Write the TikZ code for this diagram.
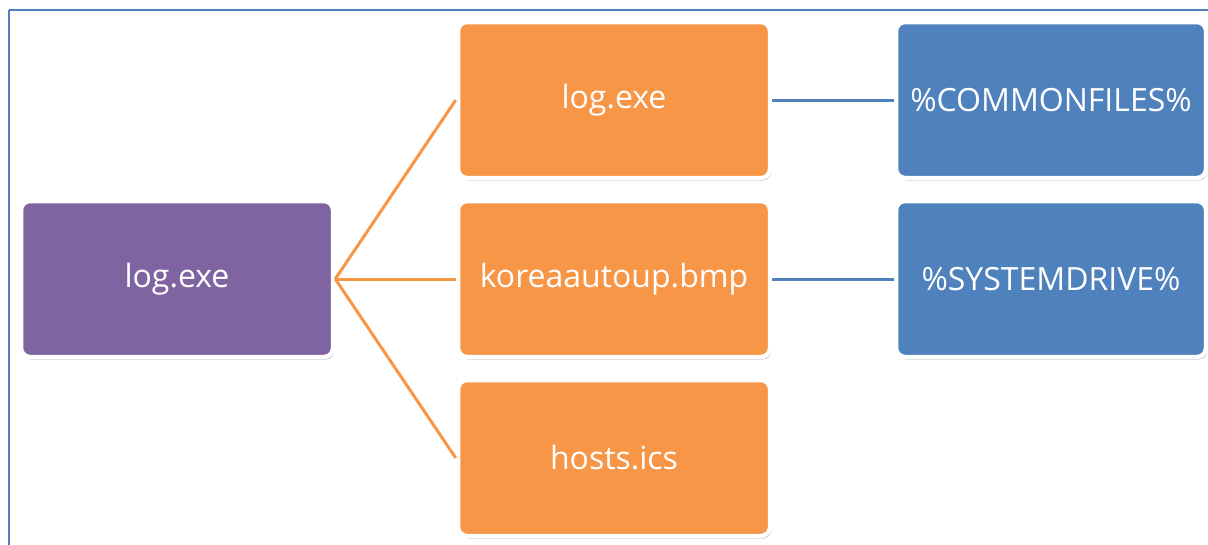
\documentclass[tikz,border=0pt]{standalone}
\usepackage{fontspec}
\setmainfont{Open Sans}
\usetikzlibrary{shadows}
\definecolor{frameblue}{HTML}{4F81BD}
\definecolor{rootpurple}{HTML}{8064A2}
\definecolor{fileorange}{HTML}{F79646}
\definecolor{dirblue}{HTML}{4F81BD}
\begin{document}
\begin{tikzpicture}[x=1pt,y=-1pt,
    box/.style={draw=white, line width=4.5pt, rounded corners=9pt,
      minimum width=312pt, minimum height=156pt, text=white,
      font=\fontsize{32}{38}\selectfont,
      drop shadow={shadow xshift=1.5pt, shadow yshift=-2.5pt, fill=black!45, opacity=0.6}},
    rootbox/.style={box, fill=rootpurple},
    filebox/.style={box, fill=fileorange},
    dirbox/.style={box, fill=dirblue, minimum width=310pt},
    branch/.style={line width=3pt, color=fileorange},
    leaf/.style={line width=3pt, color=dirblue}]
  \useasboundingbox (0,0) rectangle (1208,544);
  % frame
  \draw[frameblue, line width=2pt] (9,10) -- (1230,10) (9,10) -- (9,560);
  % boxes
  \node[rootbox] (root) at (177,279) {log.exe};
  \node[filebox] (logexe) at (614,100) {log.exe};
  \node[filebox] (korea) at (614,279) {koreaautoup.bmp};
  \node[filebox] (hosts) at (614,458) {hosts.ics};
  \node[dirbox] (common) at (1051,100) {\%COMMONFILES\%};
  \node[dirbox] (sysdrive) at (1051,279) {\%SYSTEMDRIVE\%};
  % connectors
  \foreach \f in {logexe,korea,hosts}
    \draw[branch] (root.east) -- (\f.west);
  \draw[leaf] (logexe.east) -- (common.west);
  \draw[leaf] (korea.east) -- (sysdrive.west);
\end{tikzpicture}
\end{document}
